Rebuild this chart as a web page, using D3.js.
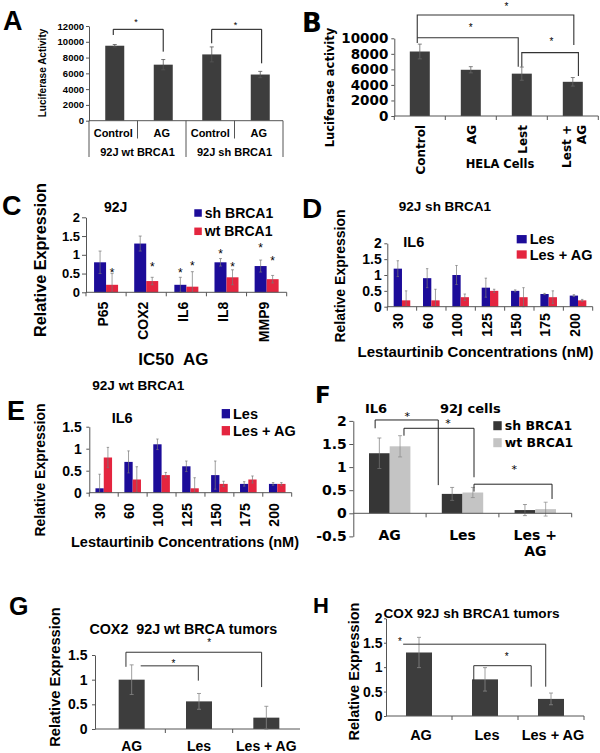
<!DOCTYPE html>
<html><head><meta charset="utf-8">
<script src="https://cdn.jsdelivr.net/npm/d3@7"></script>
<style>
body{margin:0;background:#fff}
svg{display:block}
</style></head><body>
<svg id="fig" width="600" height="753"></svg>
<script>
// ---------------- DATA ----------------
// Panel A
const aCategories = ["Control", "AG", "Control", "AG"];
const aGroups = ["92J wt BRCA1", "92J sh BRCA1"];
const aValues = [9500, 7100, 8400, 5850];
const aErrors = [150, 650, 950, 400];
const aTicks = [0, 2000, 4000, 6000, 8000, 10000, 12000];
// Panel B
const bCategories = ["Control", "AG", "Lest", "Lest + AG"];
const bValues = [8300, 5950, 5450, 4400];
const bErrors = [950, 400, 850, 550];
const bTicks = [0, 2000, 4000, 6000, 8000, 10000];
// Panel C
const cGenes = ["P65", "COX2", "IL6", "IL8", "MMP9"];
const cSh = [0.8, 1.3, 0.2, 0.8, 0.7];
const cShErr = [0.3, 0.2, 0.2, 0.1, 0.16];
const cWt = [0.2, 0.3, 0.15, 0.4, 0.35];
const cWtErr = [0.3, 0.1, 0.4, 0.2, 0.1];
const cShStars = [null, null, 0.59, 1.08, 1.26];
const cWtStars = [0.59, 0.75, 0.77, 0.75, 0.91];
const cTicks = [0, 0.5, 1, 1.5, 2];
// Panels D / E
const concentrations = ["30", "60", "100", "125", "150", "175", "200"];
const dLes = [1.2, 0.9, 1.0, 0.6, 0.5, 0.4, 0.35];
const dLesErr = [0.25, 0.3, 0.3, 0.3, 0.03, 0.02, 0.03];
const dLesAG = [0.2, 0.2, 0.3, 0.5, 0.3, 0.3, 0.2];
const dLesAGErr = [0.3, 0.35, 0.1, 0.05, 0.3, 0.2, 0.03];
const dTicks = [0, 0.5, 1, 1.5, 2];
const eLes = [0.1, 0.7, 1.1, 0.6, 0.4, 0.2, 0.2];
const eLesErr = [0.32, 0.25, 0.12, 0.12, 0.32, 0.05, 0.03];
const eLesAG = [0.8, 0.3, 0.4, 0.1, 0.2, 0.3, 0.2];
const eLesAGErr = [0.23, 0.29, 0.06, 0.24, 0.06, 0.08, 0.03];
const eTicks = [0, 0.5, 1, 1.5];
// Panel F
const fCategories = ["AG", "Les", "Les + AG"];
const fSh = [1.3, 0.42, 0.07];
const fShErr = [0.33, 0.14, 0.12];
const fWt = [1.45, 0.45, 0.09];
const fWtErr = [0.23, 0.11, 0.15];
const fTicks = [-0.5, 0, 0.5, 1, 1.5, 2];
// Panels G / H
const ghCategories = ["AG", "Les", "Les + AG"];
const gValues = [1.0, 0.56, 0.23];
const gErrors = [0.3, 0.16, 0.23];
const gTicks = [0, 0.5, 1, 1.5];
const hValues = [1.3, 0.75, 0.35];
const hErrors = [0.31, 0.24, 0.12];
const hTicks = [0, 0.5, 1, 1.5, 2];

// ---------------- HELPERS ----------------
const ARIAL = "'Liberation Sans', Arial, sans-serif";
const VERD = "'DejaVu Sans', Verdana, sans-serif";
const AXC = "#555";
const DARK = "#3d3d3d";
const BLUE = "#1c0c99";
const RED = "#e4253f";
const svg = d3.select("#fig");

function txt(g, s, x, y, size, o = {}) {
  const t = g.append("text").attr("x", x).attr("y", y)
    .attr("font-size", size).attr("font-family", o.fam || ARIAL)
    .attr("font-weight", o.weight || "bold").attr("fill", "#000")
    .attr("text-anchor", o.anchor || "start").text(s);
  if (o.rot) t.attr("transform", `rotate(-90,${x},${y})`);
  if (o.pre) t.style("white-space", "pre");
  return t;
}
function yLabel(g, s, cx, cy, size, fam) {
  return txt(g, s, cx + 0.36 * size, cy, size, {fam, anchor: "middle", rot: true});
}
function yAxis(g, y, x, ticks, o) {
  const a = g.append("g").attr("transform", `translate(${x},0)`)
    .call(d3.axisLeft(y).tickValues(ticks).tickSize(o.tick).tickSizeOuter(0)
      .tickPadding(o.pad).tickFormat(d => String(d)));
  a.attr("font-family", o.fam || ARIAL).attr("font-size", o.size).attr("font-weight", "bold");
  a.selectAll("path,line").attr("stroke", AXC);
  a.selectAll("text").attr("fill", "#000");
  return a;
}
function xBase(g, x, y0, ticks, tickLen, xStart, xEnd) {
  const r = x.range();
  g.append("line").attr("x1", xStart ?? r[0]).attr("x2", xEnd ?? r[1])
    .attr("y1", y0).attr("y2", y0).attr("stroke", AXC);
  const bounds = x.domain().map(d => x(d)).concat([r[1]]);
  g.append("g").selectAll("line").data(ticks).join("line")
    .attr("x1", i => bounds[i]).attr("x2", i => bounds[i])
    .attr("y1", y0).attr("y2", y0 + tickLen).attr("stroke", AXC);
}
function drawBars(g, x, y, vals, errs, o) {
  const dom = x.domain();
  const cx = i => x(dom[i]) + x.bandwidth() / 2 + o.offset;
  const lo = y.domain()[0];
  g.append("g").selectAll("rect").data(vals).join("rect")
    .attr("x", (d, i) => cx(i) - o.w / 2).attr("width", o.w)
    .attr("y", d => y(Math.max(d, 0))).attr("height", d => Math.abs(y(d) - y(0)))
    .attr("fill", o.fill);
  g.append("g").selectAll("path").data(vals).join("path")
    .attr("d", (v, i) => {
      const x0 = cx(i), yt = y(v + errs[i]);
      const low = v - errs[i];
      const yb = y(Math.max(low, lo));
      let p = `M${x0},${yt}V${yb}M${x0 - o.cap},${yt}H${x0 + o.cap}`;
      if (low >= lo) p += `M${x0 - o.cap},${yb}H${x0 + o.cap}`;
      return p;
    })
    .attr("fill", "none").attr("stroke", o.err || "#666").attr("stroke-width", o.ew || 0.8);
}
function drawBrackets(g, p, y, list, stroke, sw) {
  g.append("g").selectAll("path").data(list).join("path")
    .attr("d", b => `M${p(b.x1)},${y(b.b1)}V${y(b.top)}H${p(b.x2)}V${y(b.b2)}`)
    .attr("fill", "none").attr("stroke", stroke).attr("stroke-width", sw);
}
function drawStars(g, p, y, list, size, fam) {
  g.append("g").selectAll("text").data(list).join("text")
    .attr("transform", s => `translate(${p(s.x)},${y(s.y) + size * 0.55}) rotate(0.01)`)
    .attr("text-anchor", "middle").attr("font-size", size)
    .attr("font-family", fam || ARIAL).attr("fill", "#000").text("*");
}
function legend(g, items, x, y0, dy, sw, sh, size, fam) {
  items.forEach((it, i) => {
    g.append("rect").attr("x", x).attr("y", y0 + i * dy - sh / 2).attr("width", sw).attr("height", sh).attr("fill", it.c);
    txt(g, it.t, x + sw + 3, y0 + i * dy + 0.36 * size, size, {fam});
  });
}
function rotLabels(g, x, cats, top, size, dx, fam) {
  g.append("g").selectAll("text").data(cats).join("text")
    .attr("transform", d => `translate(${x(d) + x.bandwidth() / 2 + dx},${top}) rotate(-90)`)
    .attr("text-anchor", "end").attr("font-size", size).attr("font-family", fam || ARIAL)
    .attr("font-weight", "bold").attr("fill", "#000").text(d => d);
}

// ---------------- PANEL A ----------------
{
  const g = svg.append("g");
  const idx = d3.range(aCategories.length);
  const x = d3.scaleBand().domain(idx).range([89, 283]);
  const p = d3.scaleLinear().domain([-0.5, 3.5]).range([89, 283]);
  const y = d3.scaleLinear().domain([0, 12000]).range([120.7, 26]);
  txt(g, "A", 3, 30, 27);
  yAxis(g, y, 89, aTicks, {tick: 3, pad: 2, size: 9.5});
  yLabel(g, "Luciferase Activity", 42, 73, 10);
  drawBars(g, x, y, aValues, aErrors, {offset: 1.5, w: 19, fill: DARK, cap: 2, err: "#555"});
  g.append("line").attr("x1", 89).attr("x2", 283).attr("y1", y(0)).attr("y2", y(0)).attr("stroke", AXC);
  g.append("g").selectAll("line").data(d3.range(5)).join("line")
    .attr("x1", i => p(i - 0.5)).attr("x2", i => p(i - 0.5))
    .attr("y1", y(0)).attr("y2", i => i % 2 === 0 ? 157 : 138.5).attr("stroke", AXC);
  g.append("g").selectAll("text").data(aCategories).join("text")
    .attr("x", (d, i) => p(i)).attr("y", 137).attr("text-anchor", "middle")
    .attr("font-size", 11).attr("font-family", ARIAL).attr("font-weight", "bold").text(d => d);
  g.append("g").selectAll("text").data(aGroups).join("text")
    .attr("x", (d, i) => p(2 * i + 0.5)).attr("y", 156).attr("text-anchor", "middle")
    .attr("font-size", 11).attr("font-family", ARIAL).attr("font-weight", "bold").text(d => d);
  drawBrackets(g, p, y, [
    {x1: 0.0, x2: 1.03, top: 11580, b1: 10860, b2: 8750},
    {x1: 2.03, x2: 3.06, top: 11580, b1: 9810, b2: 7270}
  ], "#111", 1);
  drawStars(g, p, y, [{x: 0.47, y: 12760}, {x: 2.52, y: 12420}], 9);
}

// ---------------- PANEL B ----------------
{
  const g = svg.append("g");
  const x = d3.scaleBand().domain(bCategories).range([394.3, 598.3]);
  const p = d3.scaleLinear().domain([-0.5, 3.5]).range([394.3, 598.3]);
  const y = d3.scaleLinear().domain([0, 10000]).range([116, 38.3]);
  txt(g, "B", 302, 32, 26, {fam: VERD});
  yAxis(g, y, 394.3, bTicks, {tick: 3, pad: 3, size: 13.5, fam: VERD});
  yLabel(g, "Luciferase activity", 330, 87.5, 11.5, VERD);
  drawBars(g, x, y, bValues, bErrors, {offset: 0, w: 20, fill: DARK, cap: 2, err: "#666"});
  xBase(g, x, y(0), [0, 1, 2, 3, 4], 4);
  rotLabels(g, x, bCategories.slice(0, 3), 125, 12, 5, VERD);
  const last = bCategories[3].split(" + ");
  txt(g, last[0] + " +", x(bCategories[3]) + x.bandwidth() / 2 - 1.5, 125, 12, {fam: VERD, anchor: "end", rot: true});
  txt(g, last[1], x(bCategories[3]) + x.bandwidth() / 2 + 13.5, 125, 12, {fam: VERD, anchor: "end", rot: true});
  txt(g, "HELA Cells", 500, 168, 11.5, {fam: VERD, anchor: "middle"});
  drawBrackets(g, p, y, [
    {x1: -0.05, x2: 3.02, top: 13000, b1: 9400, b2: 9140},
    {x1: -0.05, x2: 1.93, top: 10080, b1: 10080, b2: 6345},
    {x1: 2.0, x2: 3.11, top: 8150, b1: 6345, b2: 5150}
  ], "#333", 1.1);
  drawStars(g, p, y, [{x: 1.70, y: 14290}, {x: 1.0, y: 11710}, {x: 2.58, y: 9870}], 10);
}

// ---------------- PANEL C ----------------
{
  const g = svg.append("g");
  const x = d3.scaleBand().domain(cGenes).range([86, 286.7]);
  const p = d3.scaleLinear().domain([-0.5, 4.5]).range([86, 286.7]);
  const y = d3.scaleLinear().domain([0, 2]).range([292.3, 217.3]);
  txt(g, "C", 2, 215, 27);
  txt(g, "92J", 115.7, 211.5, 14, {anchor: "middle"});
  yAxis(g, y, 86, cTicks, {tick: 4, pad: 2, size: 13});
  yLabel(g, "Relative Expression", 40, 260, 16.2);
  drawBars(g, x, y, cSh, cShErr, {offset: -6, w: 12, fill: BLUE, cap: 1.5, err: "#777", ew: 0.7});
  drawBars(g, x, y, cWt, cWtErr, {offset: 6, w: 12, fill: RED, cap: 1.5, err: "#777", ew: 0.7});
  xBase(g, x, y(0), [0, 1, 2, 3, 4, 5], 4);
  rotLabels(g, x, cGenes, 301.7, 14, 2);
  txt(g, "IC50  AG", 173.3, 364.8, 17, {anchor: "middle", pre: true});
  const stars = [];
  cShStars.forEach((v, i) => { if (v != null) stars.push({x: i - 0.15, y: v}); });
  cWtStars.forEach((v, i) => { if (v != null) stars.push({x: i + 0.15, y: v}); });
  drawStars(g, p, y, stars, 12);
  legend(g, [{t: "sh BRCA1", c: BLUE}, {t: "wt BRCA1", c: RED}], 194.3, 213, 18.3, 7.5, 7.5, 14);
}

// ---------------- PANEL D ----------------
{
  const g = svg.append("g");
  const x = d3.scaleBand().domain(concentrations).range([387.3, 592.7]);
  const y = d3.scaleLinear().domain([0, 2]).range([306.7, 243.3]);
  txt(g, "D", 302, 218, 28);
  txt(g, "92J sh BRCA1", 445, 211, 13.5, {anchor: "middle"});
  txt(g, "IL6", 403.3, 246.7, 14.5);
  yAxis(g, y, 387.3, dTicks, {tick: 3, pad: 2.5, size: 14});
  yLabel(g, "Relative Expression", 340, 276, 14);
  drawBars(g, x, y, dLes, dLesErr, {offset: -4.15, w: 8.3, fill: BLUE, cap: 1.2, err: "#777", ew: 0.7});
  drawBars(g, x, y, dLesAG, dLesAGErr, {offset: 4.15, w: 8.3, fill: RED, cap: 1.2, err: "#777", ew: 0.7});
  xBase(g, x, y(0), d3.range(8), 4);
  rotLabels(g, x, concentrations, 313.3, 14, 1.5);
  txt(g, "Lestaurtinib Concentrations (nM)", 475.5, 357, 15, {anchor: "middle"});
  legend(g, [{t: "Les", c: BLUE}, {t: "Les + AG", c: RED}], 516.7, 239.2, 15.3, 10, 8.3, 14.5);
}

// ---------------- PANEL E ----------------
{
  const g = svg.append("g");
  const x = d3.scaleBand().domain(concentrations).range([89.3, 291.7]);
  const y = d3.scaleLinear().domain([0, 1.5]).range([492.7, 426.7]);
  txt(g, "92J wt BRCA1", 138.3, 390, 13.6, {anchor: "middle"});
  txt(g, "E", 7, 420, 27);
  txt(g, "IL6", 111.7, 423.3, 14.5);
  yAxis(g, y, 89.3, eTicks, {tick: 3, pad: 4.5, size: 14});
  yLabel(g, "Relative Expression", 40, 470, 14);
  drawBars(g, x, y, eLes, eLesErr, {offset: -4.15, w: 8.3, fill: BLUE, cap: 1.2, err: "#777", ew: 0.7});
  drawBars(g, x, y, eLesAG, eLesAGErr, {offset: 4.15, w: 8.3, fill: RED, cap: 1.2, err: "#777", ew: 0.7});
  xBase(g, x, y(0), d3.range(8), 4);
  rotLabels(g, x, concentrations, 503.3, 14, 1.5);
  txt(g, "Lestaurtinib Concentrations (nM)", 185, 547, 14.5, {anchor: "middle"});
  legend(g, [{t: "Les", c: BLUE}, {t: "Les + AG", c: RED}], 221.7, 413.7, 17, 8.3, 9.3, 14.5);
}

// ---------------- PANEL F ----------------
{
  const g = svg.append("g");
  const x = d3.scaleBand().domain(fCategories).range([353.3, 571.7]);
  const p = d3.scaleLinear().domain([-0.5, 2.5]).range([353.3, 571.7]);
  const y = d3.scaleLinear().domain([-0.5, 2]).range([536.4, 420.9]);
  txt(g, "F", 315, 403, 23, {fam: VERD});
  txt(g, "IL6", 365, 412.7, 13, {fam: VERD});
  txt(g, "92J cells", 440, 412.7, 13, {fam: VERD});
  yAxis(g, y, 353.3, fTicks, {tick: 4, pad: 2.5, size: 14, fam: VERD});
  drawBars(g, x, y, fSh, fShErr, {offset: -10.35, w: 20.7, fill: "#363636", cap: 2, err: "#777", ew: 0.7});
  drawBars(g, x, y, fWt, fWtErr, {offset: 10.35, w: 20.7, fill: "#c4c4c4", cap: 2, err: "#888", ew: 0.7});
  xBase(g, x, y(0), [1, 2, 3], 4);
  g.append("g").selectAll("text").data(fCategories.slice(0, 2)).join("text")
    .attr("x", d => x(d) + x.bandwidth() / 2).attr("y", 540).attr("text-anchor", "middle")
    .attr("font-size", 14).attr("font-family", VERD).attr("font-weight", "bold").text(d => d);
  const last = fCategories[2].split(" + ");
  txt(g, last[0] + " +", x(fCategories[2]) + x.bandwidth() / 2, 540, 14, {fam: VERD, anchor: "middle"});
  txt(g, last[1], x(fCategories[2]) + x.bandwidth() / 2, 556, 14, {fam: VERD, anchor: "middle"});
  drawBrackets(g, p, y, [
    {x1: -0.2, x2: 0.667, top: 2.02, b1: 1.84, b2: 0.61},
    {x1: 0.196, x2: 1.158, top: 1.84, b1: 1.68, b2: 0.78},
    {x1: 1.158, x2: 2.23, top: 0.63, b1: 0.47, b2: 0.31}
  ], "#222", 1);
  drawStars(g, p, y, [{x: 0.24, y: 2.14}, {x: 0.8, y: 2.0}, {x: 1.71, y: 1.01}], 11, VERD);
  legend(g, [{t: "sh BRCA1", c: "#363636"}, {t: "wt BRCA1", c: "#c4c4c4"}], 493.3, 425.7, 17, 8.4, 9, 12.5, VERD);
}

// ---------------- PANEL G ----------------
{
  const g = svg.append("g");
  const x = d3.scaleBand().domain(ghCategories).range([98, 300]);
  const p = d3.scaleLinear().domain([-0.5, 2.5]).range([98, 300]);
  const y = d3.scaleLinear().domain([0, 1.5]).range([729, 655]);
  txt(g, "G", 9, 615, 25);
  txt(g, "COX2  92J wt BRCA tumors", 183.3, 633.5, 14.3, {anchor: "middle", pre: true});
  yAxis(g, y, 95, gTicks, {tick: 3, pad: 4.5, size: 14});
  yLabel(g, "Relative Expression", 55, 677, 14.7);
  drawBars(g, x, y, gValues, gErrors, {offset: 0, w: 26, fill: DARK, cap: 2, err: "#888", ew: 0.8});
  xBase(g, x, y(0), [1, 2], 4, 95, 300);
  g.append("g").selectAll("text").data(ghCategories).join("text")
    .attr("x", d => x(d) + x.bandwidth() / 2).attr("y", 750.5).attr("text-anchor", "middle")
    .attr("font-size", 14).attr("font-family", ARIAL).attr("font-weight", "bold").text(d => d);
  drawBrackets(g, p, y, [
    {x1: -0.085, x2: 1.93, top: 1.556, b1: 1.26, b2: 0.85},
    {x1: 0.134, x2: 0.99, top: 1.28, b1: 1.28, b2: 0.98}
  ], "#333", 1);
  drawStars(g, p, y, [{x: 1.15, y: 1.8}, {x: 0.62, y: 1.37}], 10);
}

// ---------------- PANEL H ----------------
{
  const g = svg.append("g");
  const x = d3.scaleBand().domain(ghCategories).range([386, 584]);
  const p = d3.scaleLinear().domain([-0.5, 2.5]).range([386, 584]);
  const y = d3.scaleLinear().domain([0, 2]).range([716, 618.3]);
  txt(g, "H", 313, 613, 22);
  yAxis(g, y, 386, hTicks, {tick: 2, pad: 1.5, size: 14});
  txt(g, "COX 92J sh BRCA1 tumors", 383.5, 618.3, 13.6);
  yLabel(g, "Relative Expression", 353.3, 671.5, 14.5);
  drawBars(g, x, y, hValues, hErrors, {offset: 0, w: 26, fill: DARK, cap: 2, err: "#888", ew: 0.8});
  xBase(g, x, y(0), [1, 2, 3], 4);
  g.append("g").selectAll("text").data(ghCategories).join("text")
    .attr("x", d => x(d) + x.bandwidth() / 2 + 2).attr("y", 740).attr("text-anchor", "middle")
    .attr("font-size", 14.5).attr("font-family", ARIAL).attr("font-weight", "bold").text(d => d);
  drawBrackets(g, p, y, [
    {x1: -0.24, x2: 1.92, top: 1.47, b1: 1.47, b2: 0.6},
    {x1: 0.83, x2: 1.7, top: 1.03, b1: 0.72, b2: 0.6}
  ], "#333", 1);
  drawStars(g, p, y, [{x: -0.29, y: 1.56}, {x: 1.33, y: 1.25}], 10);
}
</script>
</body></html>
